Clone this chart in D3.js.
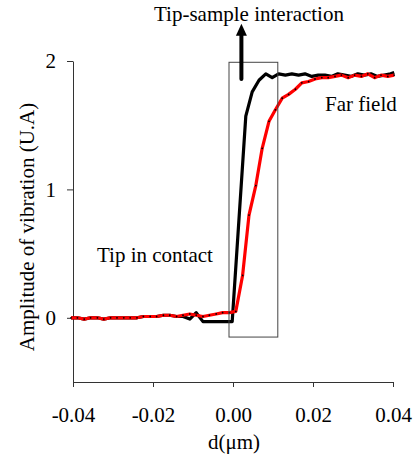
<!DOCTYPE html>
<html>
<head>
<meta charset="utf-8">
<script src="https://cdn.jsdelivr.net/npm/d3@7"></script>
<style>
  body { margin: 0; background: #fff; }
  text { font-family: "Liberation Serif", "Times New Roman", serif; fill: #000; }
</style>
</head>
<body>
<div id="container"></div>
<script>
/* DATA */
const xTicks = [-0.04, -0.02, 0.00, 0.02, 0.04];
const yTicks = [0, 1, 2];

// red curve (far field approach)
const redX = [-0.0405, -0.0389, -0.0372, -0.0356, -0.0339, -0.0323, -0.0306, -0.0290, -0.0273, -0.0257,
  -0.0240, -0.0224, -0.0207, -0.0191, -0.0174, -0.0158, -0.0141, -0.0125, -0.0108, -0.0092,
  -0.0075, -0.0059, -0.0042, -0.0026, -0.0009, 0.0007, 0.0024, 0.0040, 0.0057, 0.0073,
  0.0090, 0.0106, 0.0123, 0.0139, 0.0156, 0.0172, 0.0189, 0.0205, 0.0222, 0.0238,
  0.0255, 0.0271, 0.0288, 0.0304, 0.0321, 0.0337, 0.0354, 0.0370, 0.0387, 0.0403];
const redY = [0.00, 0.00, -0.01, 0.00, 0.00, -0.01, 0.00, 0.00, 0.00, 0.00,
  0.00, 0.01, 0.01, 0.01, 0.02, 0.02, 0.01, 0.02, 0.03, 0.02,
  0.01, 0.02, 0.03, 0.04, 0.04, 0.05, 0.33, 0.80, 1.03, 1.32,
  1.53, 1.62, 1.71, 1.74, 1.78, 1.83, 1.84, 1.86, 1.87, 1.87,
  1.88, 1.89, 1.87, 1.89, 1.88, 1.90, 1.87, 1.89, 1.88, 1.89];

// black curve
const blackX = [-0.0405, -0.0389, -0.0372, -0.0356, -0.0339, -0.0323, -0.0306, -0.0290, -0.0273, -0.0257,
  -0.0240, -0.0224, -0.0207, -0.0191, -0.0174, -0.0158, -0.0141, -0.0125, -0.0108, -0.0092,
  -0.0075, -0.0059, -0.0042, -0.0026, -0.0009, -0.0002, 0.0032, 0.0048, 0.0065, 0.0082,
  0.0098, 0.0114, 0.0131, 0.0147, 0.0164, 0.0180, 0.0197, 0.0213, 0.0230, 0.0246,
  0.0262, 0.0279, 0.0295, 0.0312, 0.0328, 0.0345, 0.0361, 0.0378, 0.0394, 0.0403];
const blackY = [0.00, 0.00, -0.01, 0.00, 0.00, -0.01, 0.00, 0.00, 0.00, 0.00,
  0.00, 0.01, 0.01, 0.01, 0.02, 0.02, 0.01, 0.01, -0.01, 0.04,
  -0.03, -0.03, -0.03, -0.03, -0.03, -0.03, 1.57, 1.76, 1.85, 1.90,
  1.87, 1.90, 1.89, 1.90, 1.89, 1.90, 1.88, 1.89, 1.89, 1.88,
  1.90, 1.89, 1.88, 1.90, 1.89, 1.90, 1.88, 1.89, 1.90, 1.91];

// annotation box and arrow (data units)
const boxX = [-0.0010, 0.0112];
const boxY = [-0.15, 1.99];
const arrowX = 0.0021;
const arrowY = [1.86, 2.29];

/* LAYOUT */
const width = 417;
const height = 454;
const margin = { top: 61, right: 24, bottom: 72, left: 73 };

const svg = d3.select("#container")
  .append("svg")
  .attr("width", width)
  .attr("height", height)

/* SCALES */
const xScale = d3.scaleLinear()
  .domain([-0.04, 0.04])
  .range([margin.left, width - margin.right])

const yScale = d3.scaleLinear()
  .domain([-0.5, 2])
  .range([height - margin.bottom, margin.top])

/* AXES */
const xAxis = svg.append("g")
  .attr("transform", `translate(0,${height - margin.bottom})`)
  .call(d3.axisBottom(xScale)
    .tickValues(xTicks)
    .tickSize(5)
    .tickSizeOuter(0)
    .tickPadding(20)
    .tickFormat(d => d.toFixed(2)))

const yAxis = svg.append("g")
  .attr("transform", `translate(${margin.left},0)`)
  .call(d3.axisLeft(yScale)
    .tickValues(yTicks)
    .tickSize(6)
    .tickSizeOuter(0)
    .tickPadding(11)
    .tickFormat(d3.format("d")))

svg.selectAll(".domain, .tick line").attr("stroke", "#333")
svg.selectAll(".tick text")
  .style("font-family", "'Liberation Serif', serif")
  .style("font-size", "21px")
  .attr("fill", "#000")

// axis titles
svg.append("text")
  .attr("x", (margin.left + width - margin.right) / 2 + 1)
  .attr("y", 449)
  .attr("text-anchor", "middle")
  .style("font-size", "21px")
  .text("d(μm)")

svg.append("text")
  .attr("transform", "translate(34,227) rotate(-90)")
  .attr("text-anchor", "middle")
  .style("font-size", "21px")
  .text("Amplitude of vibration (U.A)")

/* LINES */
const line = d3.line()
  .x(d => xScale(d[0]))
  .y(d => yScale(d[1]))

const blackData = blackX.map((x, i) => [x, blackY[i]])
const redData = redX.map((x, i) => [x, redY[i]])

svg.append("path")
  .datum(blackData)
  .attr("d", line)
  .attr("fill", "none")
  .attr("stroke", "#000")
  .attr("stroke-width", 3.2)
  .attr("stroke-linejoin", "round")

svg.append("path")
  .datum(redData)
  .attr("d", line)
  .attr("fill", "none")
  .attr("stroke", "#ff0000")
  .attr("stroke-width", 3.2)
  .attr("stroke-linejoin", "round")

svg.selectAll(".redDot")
  .data(redData)
  .join("circle")
  .attr("class", "redDot")
  .attr("cx", d => xScale(d[0]))
  .attr("cy", d => yScale(d[1]))
  .attr("r", 0.9)
  .attr("fill", "#000")

/* ANNOTATIONS */
svg.append("rect")
  .attr("x", xScale(boxX[0]))
  .attr("y", yScale(boxY[1]))
  .attr("width", xScale(boxX[1]) - xScale(boxX[0]))
  .attr("height", yScale(boxY[0]) - yScale(boxY[1]))
  .attr("fill", "none")
  .attr("stroke", "#444")
  .attr("stroke-width", 1)

// arrow
const ax = xScale(arrowX)
const tipY = yScale(arrowY[1])
svg.append("line")
  .attr("x1", ax)
  .attr("x2", ax)
  .attr("y1", yScale(arrowY[0]))
  .attr("y2", tipY + 10)
  .attr("stroke", "#000")
  .attr("stroke-width", 4)
  .attr("stroke-linecap", "round")

svg.append("path")
  .attr("d", `M${ax},${tipY} L${ax - 5.5},${tipY + 12} L${ax + 5.5},${tipY + 12} Z`)
  .attr("fill", "#000")

svg.append("text")
  .attr("x", 154)
  .attr("y", 21)
  .style("font-size", "21px")
  .text("Tip-sample interaction")

svg.append("text")
  .attr("x", 325)
  .attr("y", 111)
  .style("font-size", "21px")
  .text("Far field")

svg.append("text")
  .attr("x", 97)
  .attr("y", 262)
  .style("font-size", "21px")
  .text("Tip in contact")
</script>
</body>
</html>
